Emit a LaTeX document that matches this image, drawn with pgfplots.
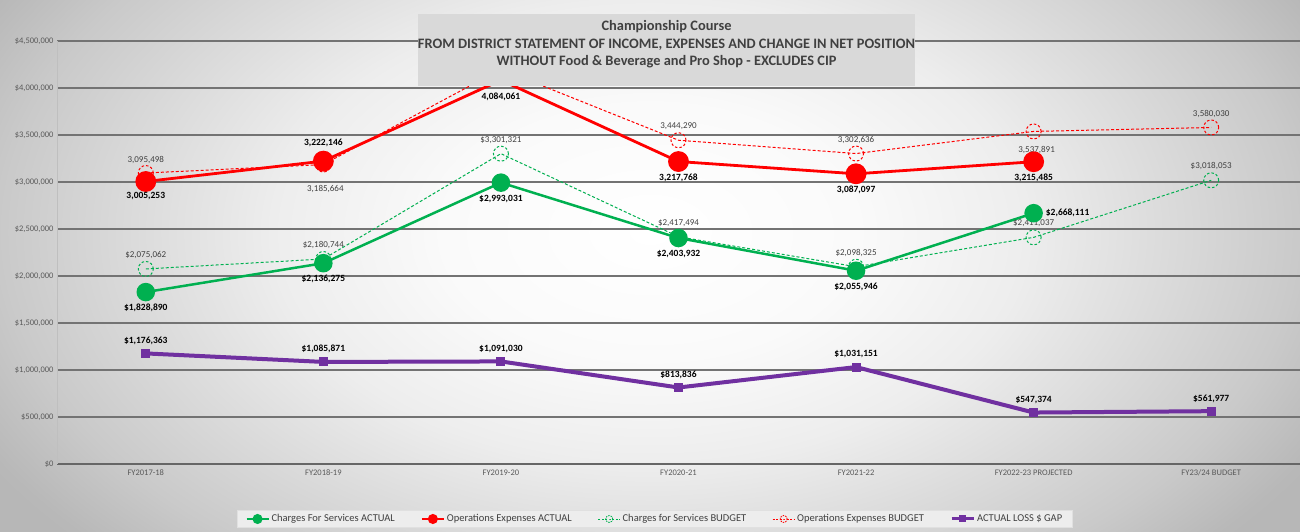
\documentclass[border=0pt]{standalone}
\usepackage{fontspec}
\setmainfont{Carlito}
\usepackage{pgfplots}
\pgfplotsset{compat=1.18}
\definecolor{cgreen}{HTML}{00B050}
\definecolor{cred}{HTML}{FF0000}
\definecolor{cpurple}{HTML}{7030A0}
\definecolor{tgray}{HTML}{595959}
\definecolor{dgray}{HTML}{404040}
\pgfdeclareradialshading{bgshade}{\pgfpoint{0bp}{0bp}}{color(0bp)=(white); color(8bp)=(black!2); color(14.5bp)=(black!7); color(19bp)=(black!13); color(25bp)=(black!21); color(29bp)=(black!28); color(50bp)=(black!32)}
\pgfplotsset{
  lbl/.style={nodes near coords, point meta=explicit symbolic,
    visualization depends on={value \thisrow{dx}\as\mydx},
    visualization depends on={value \thisrow{dy}\as\mydy},
    every node near coord/.append style={anchor=center, xshift=\mydx, yshift=\mydy, inner sep=0pt}},
}
\begin{document}
\begin{tikzpicture}[x=1pt,y=1pt]
\useasboundingbox (0pt,0pt) rectangle (1300pt,532pt);
\begin{scope}
\clip (0pt,0pt) rectangle (1300pt,532pt);
\shade[shading=bgshade] (0pt,-100pt) rectangle (1300pt,700pt);
\end{scope}
\begin{axis}[at={(57pt,68pt)}, anchor=south west, scale only axis,
  width=1243pt, height=423pt,
  xmin=-0.5, xmax=6.5, ymin=0, ymax=4500000,
  scaled y ticks=false,
  axis lines=left, axis line style={-},
  x axis line style={draw=black!60, line width=1.4pt},
  y axis line style={draw=black!25, line width=0.6pt},
  major tick length=0pt,
  xtick={0,1,2,3,4,5,6},
  xticklabels={FY2017-18,FY2018-19,FY2019-20,FY2020-21,FY2021-22,FY2022-23 PROJECTED,FY23/24 BUDGET},
  x tick label style={font=\fontsize{8.5}{10}\selectfont, text=tgray, yshift=-2pt},
  ytick={0,500000,1000000,1500000,2000000,2500000,3000000,3500000,4000000,4500000},
  yticklabels={\$0,{\$500,000},{\$1,000,000},{\$1,500,000},{\$2,000,000},{\$2,500,000},{\$3,000,000},{\$3,500,000},{\$4,000,000},{\$4,500,000}},
  y tick label style={font=\fontsize{8.5}{10}\selectfont, text=tgray},
  ymajorgrids, grid style={black!55, line width=1.2pt},
  legend columns=5,
  legend style={at={(0.481,-0.130)}, anchor=center, fill=black!7, draw=black!12,
    font=\fontsize{10.5}{12}\selectfont, text=dgray, inner xsep=8pt, inner ysep=2pt,
    /tikz/every even column/.append style={column sep=24pt}},
  legend image code/.code={\draw[mark repeat=2,mark phase=2] plot coordinates {(0pt,0pt) (11pt,0pt) (22pt,0pt)};},
]
\addlegendimage{cgreen, line width=2pt, mark=*, mark size=4pt}
\addlegendentry{Charges For Services ACTUAL}
\addlegendimage{cred, line width=2pt, mark=*, mark size=4pt}
\addlegendentry{Operations Expenses ACTUAL}
\addlegendimage{cgreen, line width=0.8pt, dash pattern=on 2pt off 1.5pt, mark=o, mark size=3.5pt, mark options={line width=0.8pt, dash pattern=on 1.5pt off 1pt}}
\addlegendentry{Charges for Services BUDGET}
\addlegendimage{cred, line width=0.8pt, dash pattern=on 2pt off 1.5pt, mark=o, mark size=3.5pt, mark options={line width=0.8pt, dash pattern=on 1.5pt off 1pt}}
\addlegendentry{Operations Expenses BUDGET}
\addlegendimage{cpurple, line width=3pt, mark=square*, mark size=2pt}
\addlegendentry{ACTUAL LOSS \$ GAP}

% Charges for Services BUDGET
\addplot[cgreen, line width=1pt, dash pattern=on 3pt off 2pt, mark=o, mark size=7.5pt,
  mark options={line width=1pt, dash pattern=on 2.5pt off 2pt}, forget plot, lbl,
  every node near coord/.append style={font=\fontsize{9}{10}\selectfont, text=dgray}]
  table[x=x, y=y, meta=lab] {
x y dx dy lab
0 2075062 0 14 \$2,075,062
1 2180744 0 14 \$2,180,744
2 3301321 0 14 \$3,301,321
3 2417494 0 14 \$2,417,494
4 2098325 0 14 \$2,098,325
5 2411037 0 14 \$2,411,037
6 3018053 0 14 \$3,018,053
};
% Operations Expenses BUDGET
\addplot[cred, line width=1pt, dash pattern=on 3pt off 2pt, mark=o, mark size=7.5pt,
  mark options={line width=1pt, dash pattern=on 2.5pt off 2pt}, forget plot, lbl,
  every node near coord/.append style={font=\fontsize{9}{10}\selectfont, text=dgray}]
  table[x=x, y=y, meta=lab] {
x y dx dy lab
0 3095498 0 13.5 3,095,498
1 3185664 2 -24.5 3,185,664
2 4200000 0 13.5 {}
3 3444290 0 14 3,444,290
4 3302636 0 13.5 3,302,636
5 3537891 3 -18.5 3,537,891
6 3580030 0 13.5 3,580,030
};
% Charges For Services ACTUAL
\addplot[cgreen, line width=2.5pt, mark=*, mark size=8pt, mark options={solid}, forget plot, lbl,
  every node near coord/.append style={font=\bfseries\fontsize{9.5}{11}\selectfont, text=black}]
  table[x=x, y=y, meta=lab] {
x y dx dy lab
0 1828890 0 -16 \$1,828,890
1 2136275 0 -16 \$2,136,275
2 2993031 0 -16 \$2,993,031
3 2403932 0 -16 \$2,403,932
4 2055946 0 -16 \$2,055,946
5 2668111 34 0 \$2,668,111
};
% Operations Expenses ACTUAL
\addplot[cred, line width=2.8pt, mark=*, mark size=9pt, mark options={solid}, mark indices={1,2,4,5,6}, forget plot, lbl,
  every node near coord/.append style={font=\bfseries\fontsize{9.5}{11}\selectfont, text=black}]
  table[x=x, y=y, meta=lab] {
x y dx dy lab
0 3005253 0 -15 3,005,253
1 3222146 0 18 3,222,146
2 4084061 0 -17 4,084,061
3 3217768 0 -16 3,217,768
4 3087097 0 -16 3,087,097
5 3215485 0 -16 3,215,485
};
% label of the hidden peak point
\addplot[draw=none, mark=*, mark options={draw=none, fill=none}, forget plot, lbl,
  every node near coord/.append style={font=\bfseries\fontsize{9.5}{11}\selectfont, text=black}]
  table[x=x, y=y, meta=lab] {
x y dx dy lab
2 4084061 0 -17 4,084,061
};
% ACTUAL LOSS $ GAP
\addplot[cpurple, line width=4pt, mark=square*, mark size=2.5pt, mark options={solid}, forget plot, lbl,
  every node near coord/.append style={font=\bfseries\fontsize{9.5}{11}\selectfont, text=black}]
  table[x=x, y=y, meta=lab] {
x y dx dy lab
0 1176363 0 12.7 \$1,176,363
1 1085871 0 12.7 \$1,085,871
2 1091030 0 12.7 \$1,091,030
3 813836 0 12.5 \$813,836
4 1031151 0 12.7 \$1,031,151
5 547374 0 12.5 \$547,374
6 561977 0 12.5 \$561,977
};
\end{axis}
\fill[black!15] (418pt,446pt) rectangle (915pt,518pt);
\node[align=center, font=\bfseries\fontsize{14.4}{17.5}\selectfont, text=dgray] at (666.5pt,487.5pt)
  {Championship Course\\FROM DISTRICT STATEMENT OF INCOME, EXPENSES AND CHANGE IN NET POSITION\\WITHOUT Food \& Beverage and Pro Shop - EXCLUDES CIP};
\end{tikzpicture}
\end{document}
